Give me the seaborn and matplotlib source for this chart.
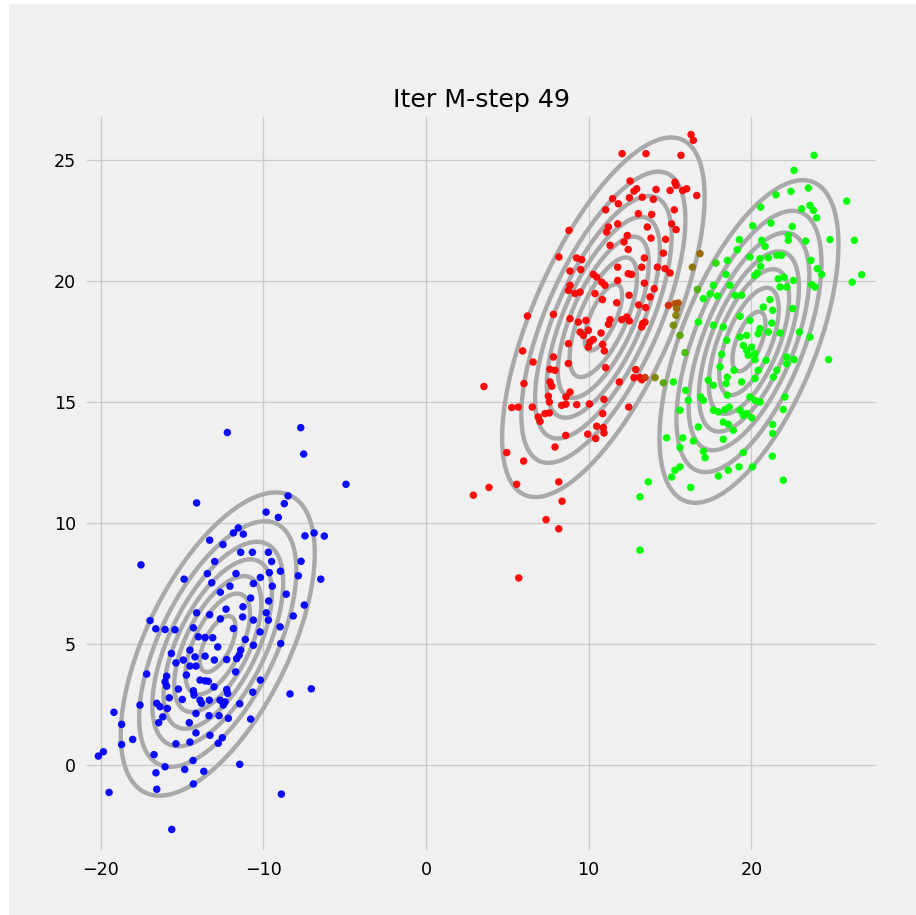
import matplotlib
matplotlib.use("Agg")
import matplotlib.pyplot as plt
import numpy as np
import pandas as pd
import seaborn as sns
from matplotlib.colors import to_hex
from matplotlib.patches import Rectangle

# points, grouped by the component they belong to
blue_x = [-12.21, -7.70, -7.52, -4.92, -14.10, -8.48, -8.71, -9.83, -9.08, -17.52,
          -11.54, -11.84, -11.23, -13.30, -12.48, -7.44, -6.88, -6.25, -11.39, -10.67,
          -9.69, -12.99, -9.49, -7.68, -13.44, -11.68, -9.63, -8.95, -7.85, -6.47,
          -14.87, -13.17, -10.61, -10.18, -12.05, -9.45, -12.64, -8.59, -10.78, -9.67,
          -7.48, -12.29, -11.25, -9.82, -14.10, -13.30, -12.64, -11.27, -10.61, -9.69,
          -8.16, -16.96, -16.61, -16.04, -15.43, -14.30, -11.84, -10.20, -8.97, -13.99,
          -13.58, -13.11, -11.11, -8.93, -10.61, -15.65, -15.37, -14.92, -14.51, -14.20,
          -14.14, -14.51, -13.58, -13.01, -12.25, -11.64, -11.48, -11.39, -12.80, -17.17,
          -15.94, -16.04, -15.94, -14.73, -13.89, -13.58, -13.38, -11.70, -10.18, -13.03,
          -12.25, -12.19, -15.22, -14.30, -14.26, -10.65, -8.36, -7.05, -15.78, -14.98,
          -13.89, -13.79, -13.32, -12.66, -12.46, -12.35, -11.45, -17.58, -16.55, -16.35,
          -15.90, -19.18, -18.71, -16.18, -16.43, -14.14, -13.34, -12.72, -12.15, -10.78,
          -14.55, -18.03, -18.71, -14.14, -13.28, -12.52, -12.77, -15.37, -14.51, -20.14,
          -19.83, -16.72, -14.32, -11.45, -16.04, -14.83, -13.66, -16.60, -14.30, -16.55,
          -19.48, -8.89, -15.63]
blue_y = [13.74, 13.94, 12.85, 11.60, 10.83, 11.12, 10.80, 10.45, 10.23, 8.27,
          9.80, 9.59, 9.54, 9.29, 9.11, 9.47, 9.59, 9.46, 8.79, 8.79,
          8.79, 8.41, 8.41, 8.42, 7.91, 7.91, 7.95, 8.01, 7.82, 7.68,
          7.68, 7.53, 7.50, 7.75, 7.39, 7.39, 7.14, 7.06, 6.90, 6.78,
          6.61, 6.44, 6.54, 6.29, 6.29, 6.21, 6.04, 6.12, 5.99, 5.99,
          6.16, 5.97, 5.63, 5.60, 5.59, 5.67, 5.64, 5.50, 5.71, 5.30,
          5.27, 5.26, 5.19, 5.02, 4.95, 4.61, 4.22, 4.34, 4.75, 4.47,
          4.09, 4.09, 4.50, 4.34, 4.36, 4.40, 4.54, 4.75, 4.88, 3.76,
          3.67, 3.44, 3.26, 3.72, 3.51, 3.48, 3.46, 3.85, 3.51, 3.23,
          3.12, 2.96, 3.14, 3.07, 2.89, 3.01, 2.94, 3.15, 2.78, 2.71,
          2.68, 2.55, 2.68, 2.68, 2.48, 2.61, 2.53, 2.48, 2.55, 2.41,
          2.34, 2.18, 1.68, 1.99, 1.75, 2.13, 2.04, 2.04, 1.93, 1.90,
          1.75, 1.06, 0.85, 1.33, 1.23, 1.13, 0.90, 0.88, 0.95, 0.37,
          0.55, 0.43, 0.19, 0.03, -0.07, -0.18, -0.26, -0.32, -0.78, -1.00,
          -1.13, -1.20, -2.66]

red_x = [16.29, 16.43, 12.05, 13.52, 15.67, 12.54, 12.95, 12.78, 14.14, 15.30,
         15.37, 15.00, 15.78, 16.02, 16.64, 11.47, 11.82, 12.50, 13.29, 13.97,
         11.04, 13.05, 13.87, 15.26, 8.79, 11.21, 11.10, 11.78, 13.60, 15.10,
         15.37, 12.37, 13.83, 14.73, 12.17, 12.43, 11.31, 14.59, 8.17, 9.26,
         9.57, 13.42, 11.78, 13.26, 14.22, 14.69, 15.00, 8.85, 9.51, 10.28,
         10.49, 12.43, 12.64, 10.80, 11.00, 11.78, 13.42, 8.85, 8.75, 9.16,
         9.47, 10.39, 12.48, 14.03, 13.77, 10.84, 11.72, 13.07, 13.50, 6.23,
         7.83, 8.85, 9.36, 9.83, 11.31, 11.21, 12.03, 12.34, 12.50, 13.32,
         13.46, 13.26, 9.47, 9.98, 9.67, 10.76, 10.28, 10.08, 9.98, 8.75,
         10.86, 10.96, 5.94, 7.83, 6.58, 8.75, 11.04, 7.62, 7.93, 12.89,
         12.78, 13.26, 13.15, 11.88, 6.02, 7.62, 7.73, 3.56, 7.52, 7.58,
         8.85, 8.60, 10.94, 5.27, 5.67, 6.53, 8.34, 8.60, 9.26, 10.04,
         12.46, 6.90, 7.01, 7.31, 7.58, 10.86, 10.49, 10.90, 10.94, 9.94,
         10.43, 8.59, 7.93, 4.96, 6.00, 3.87, 5.57, 8.16, 2.91, 8.36,
         7.38, 8.16, 5.70]
red_y = [26.05, 25.81, 25.26, 25.26, 25.19, 24.13, 23.81, 23.71, 23.78, 24.08,
         23.95, 23.74, 23.74, 23.81, 23.53, 23.40, 23.19, 23.44, 23.46, 23.37,
         22.94, 22.78, 22.75, 22.94, 22.09, 22.23, 22.02, 22.36, 22.23, 22.36,
         22.12, 21.88, 21.77, 21.72, 21.61, 21.30, 21.47, 21.15, 20.99, 20.95,
         20.88, 20.95, 20.57, 20.57, 20.57, 20.51, 20.33, 20.41, 20.47, 20.27,
         20.16, 20.30, 20.27, 19.95, 19.82, 20.02, 19.91, 19.82, 19.61, 19.48,
         19.54, 19.48, 19.41, 19.68, 19.34, 19.23, 19.10, 19.01, 18.90, 18.55,
         18.62, 18.44, 18.30, 18.37, 18.40, 18.21, 18.40, 18.51, 18.35, 18.24,
         18.30, 18.10, 17.89, 17.96, 17.75, 17.85, 17.58, 17.48, 17.27, 17.41,
         17.38, 17.11, 17.11, 16.86, 16.65, 16.59, 16.42, 16.35, 16.31, 16.34,
         16.01, 15.92, 16.01, 15.83, 15.76, 15.83, 15.65, 15.64, 15.24, 15.00,
         15.41, 15.21, 15.11, 14.77, 14.79, 14.79, 14.86, 14.91, 14.89, 14.92,
         14.79, 14.38, 14.20, 14.52, 14.55, 14.52, 14.00, 13.94, 13.72, 13.67,
         13.49, 13.62, 13.14, 12.91, 12.56, 11.47, 11.60, 11.70, 11.15, 10.90,
         10.14, 9.76, 7.73]

green_x = [23.85, 22.62, 23.50, 25.86, 21.51, 22.43, 20.57, 23.09, 23.60, 23.81,
           24.01, 21.20, 22.51, 20.08, 19.26, 20.63, 20.84, 22.27, 22.27, 23.34,
           24.83, 26.33, 19.13, 18.52, 19.91, 20.53, 21.04, 21.56, 21.86, 20.57,
           20.36, 20.22, 23.66, 24.05, 24.32, 26.78, 26.20, 18.44, 17.66, 17.46,
           17.91, 17.05, 18.68, 18.99, 19.40, 21.65, 22.00, 21.76, 22.17, 22.58,
           23.71, 23.91, 21.14, 21.31, 20.73, 22.54, 19.30, 19.91, 16.74, 17.66,
           18.27, 20.53, 20.42, 21.04, 21.76, 22.95, 23.60, 18.48, 19.30, 19.71,
           21.25, 19.50, 19.71, 20.02, 20.22, 19.81, 20.22, 22.17, 22.17, 22.62,
           20.90, 18.17, 24.75, 18.93, 18.07, 20.42, 20.22, 21.56, 21.35, 18.52,
           18.44, 19.40, 15.20, 17.35, 17.66, 15.96, 16.88, 17.05, 16.12, 18.52,
           18.64, 19.91, 20.22, 20.53, 22.06, 21.96, 15.61, 17.66, 17.97, 18.38,
           19.30, 19.50, 19.71, 20.02, 18.27, 18.58, 18.89, 16.74, 21.31, 21.31,
           14.79, 15.78, 16.43, 18.27, 15.61, 17.05, 17.15, 19.50, 21.29, 15.61,
           15.30, 15.10, 18.58, 19.24, 20.06, 17.97, 13.66, 16.27, 21.96, 13.15,
           13.15]
green_y = [25.19, 24.57, 23.84, 23.30, 23.56, 23.70, 23.05, 22.98, 23.12, 22.92,
           22.61, 22.39, 22.25, 22.28, 21.71, 21.68, 21.43, 21.88, 21.68, 21.65,
           21.71, 21.68, 21.29, 20.85, 20.99, 20.92, 20.96, 21.06, 21.06, 20.60,
           20.33, 20.23, 20.85, 20.51, 20.27, 20.26, 19.95, 20.27, 19.82, 19.47,
           19.38, 19.27, 19.82, 19.41, 19.41, 20.09, 20.16, 19.75, 19.75, 20.02,
           19.85, 19.75, 19.23, 18.79, 18.92, 18.86, 18.54, 18.37, 18.30, 18.17,
           18.10, 18.03, 17.82, 17.89, 17.85, 17.89, 17.68, 17.55, 17.68, 17.75,
           18.26, 17.34, 17.13, 17.27, 17.00, 16.93, 16.75, 16.86, 16.58, 16.75,
           16.72, 16.97, 16.75, 16.31, 16.45, 16.31, 15.97, 16.31, 16.03, 16.03,
           15.76, 15.83, 15.83, 15.90, 15.69, 15.48, 15.21, 15.07, 15.07, 15.28,
           14.79, 15.21, 15.07, 15.00, 15.21, 14.69, 14.66, 14.66, 14.59, 14.69,
           14.66, 14.45, 14.52, 14.35, 14.17, 14.08, 13.83, 13.97, 14.07, 13.70,
           13.52, 13.52, 13.39, 13.46, 13.12, 12.96, 12.70, 12.91, 12.76, 12.32,
           12.18, 11.90, 12.18, 12.32, 12.32, 11.94, 11.70, 11.47, 11.77, 11.08,
           8.88]

# points between the red and green components, with their read-off responsibilities
mixed_x = [16.84, 16.37, 13.46, 14.08, 14.90, 15.30, 15.50, 15.40, 15.36, 15.20,
           15.61, 16.68, 15.92, 14.59, 17.82]
mixed_y = [21.13, 20.57, 16.01, 16.01, 18.99, 19.06, 19.09, 18.86, 18.58, 18.17,
           17.75, 19.65, 17.04, 15.79, 20.74]
mixed_red = [0.60, 0.55, 0.80, 0.50, 0.85, 0.70, 0.70, 0.60, 0.50, 0.45,
             0.35, 0.30, 0.25, 0.35, 0.15]
mixed_green = [0.40, 0.45, 0.20, 0.50, 0.15, 0.30, 0.30, 0.40, 0.50, 0.55,
               0.65, 0.70, 0.75, 0.65, 0.85]

# fitted gaussian components (blue, red, green)
comp_mean = [(-12.8, 5.0), (10.9, 18.5), (19.85, 17.5)]
comp_sd = [(2.97, 3.12), (3.10, 3.70), (2.74, 3.32)]
comp_rho = [0.60, 0.67, 0.60]

frames = [
    pd.DataFrame({"x": blue_x, "y": blue_y, "color": "#0000ff"}),
    pd.DataFrame({"x": red_x, "y": red_y, "color": "#ff0000"}),
    pd.DataFrame({"x": green_x, "y": green_y, "color": "#00ff00"}),
    pd.DataFrame({
        "x": mixed_x,
        "y": mixed_y,
        "color": [to_hex((r, g, 0.0)) for r, g in zip(mixed_red, mixed_green)],
    }),
]
df = pd.concat(frames, ignore_index=True)
palette = {c: c for c in df["color"].unique()}

plt.style.use("fivethirtyeight")
fig = plt.figure(figsize=(916 / 90, 915 / 90), dpi=90)
ax = fig.add_axes([0.0928, 0.0689, 0.8657, 0.8055])

xlim = (-20.96, 27.78)
ylim = (-3.59, 26.86)
gx, gy = np.meshgrid(np.linspace(*xlim, 400), np.linspace(*ylim, 400))

for (mx, my), (sx, sy), rho in zip(comp_mean, comp_sd, comp_rho):
    dx = (gx - mx) / sx
    dy = (gy - my) / sy
    q = (dx ** 2 - 2 * rho * dx * dy + dy ** 2) / (1 - rho ** 2)
    z = np.exp(-0.5 * q)
    ax.contour(gx, gy, z, levels=np.arange(1, 8) / 7.5,
               colors="#a9a9a9", linewidths=3.5, zorder=2)

sns.scatterplot(data=df, x="x", y="y", hue="color", palette=palette,
                legend=False, s=36, linewidth=0, alpha=0.95, ax=ax, zorder=3)

ax.set_xlim(*xlim)
ax.set_ylim(*ylim)
ax.set_xticks([-20, -10, 0, 10, 20])
ax.set_yticks([0, 5, 10, 15, 20, 25])
ax.set_xlabel("")
ax.set_ylabel("")
ax.tick_params(axis="both", pad=7)
ax.set_title("Iter M-step 49")

# thin white margin on the left and top of the original image
fig.add_artist(Rectangle((0, 0), 9 / 916, 1, transform=fig.transFigure,
                         facecolor="white", edgecolor="none"))
fig.add_artist(Rectangle((0, 1 - 4 / 915), 1, 4 / 915, transform=fig.transFigure,
                         facecolor="white", edgecolor="none"))

fig.savefig("out.png", dpi=90, facecolor=fig.get_facecolor())
